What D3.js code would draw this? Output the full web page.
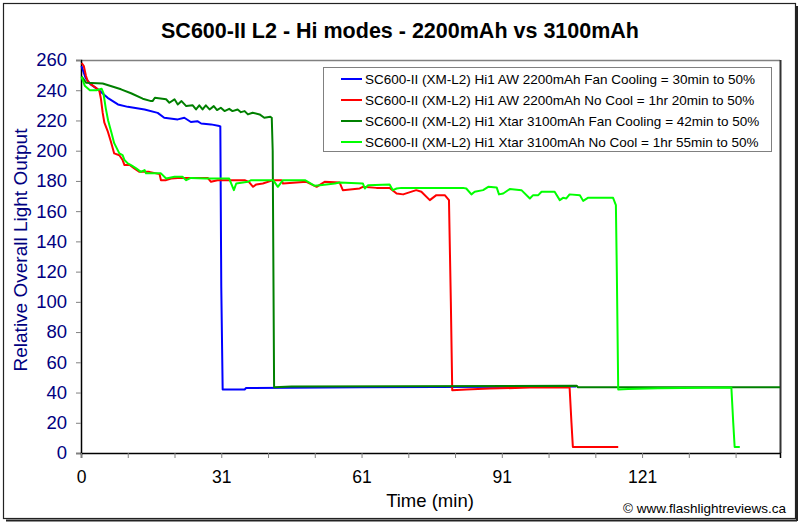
<!DOCTYPE html>
<html><head><meta charset="utf-8">
<script src="https://cdn.jsdelivr.net/npm/d3@7"></script>
<style>body{margin:0;background:#fff}svg{display:block}text{font-family:"Liberation Sans",Arial,sans-serif}</style>
</head><body>
<script>
const title = "SC600-II L2 - Hi modes - 2200mAh vs 3100mAh";
const yTitle = "Relative Overall Light Output";
const xTitle = "Time (min)";
const credit = "\u00a9 www.flashlightreviews.ca";
const yTicks = [0,20,40,60,80,100,120,140,160,180,200,220,240,260];
const xTickValues = [0,30,60,90,120];
const xTickLabels = ["0","31","61","91","121"];
const xMinorTicks = [0,10,20,30,40,50,60,70,80,90,100,110,120,130,140];
const seriesNames = [
  "SC600-II (XM-L2) Hi1 AW 2200mAh Fan Cooling = 30min to 50%",
  "SC600-II (XM-L2) Hi1 AW 2200mAh No Cool = 1hr 20min to 50%",
  "SC600-II (XM-L2) Hi1 Xtar 3100mAh Fan Cooling = 42min to 50%",
  "SC600-II (XM-L2) Hi1 Xtar 3100mAh No Cool = 1hr 55min to 50%"
];
const seriesColors = ["#0000ff","#ff0000","#008000","#00ff00"];

const blueData = [[0.1,256],[1.0,248],[2.0,244],[3.6,240.6],[5.7,235],[7.9,230.6],[10.0,229],[13.6,227.3],[16.4,225],[17.8,221.8],[20.7,220.7],[22.1,221.8],[23.5,219],[24.9,219.5],[25.7,218],[27.8,217.4],[29.6,216.3],[29.8,216],[30.0,110],[30.3,42],[35.0,42],[35.3,43],[60,43.5],[105.9,44]];
const redData = [[0.15,258],[0.6,256],[1.07,249.4],[1.43,246],[2.14,243.9],[3.2,241.6],[3.94,239.5],[4.28,234],[4.64,225],[5.0,218.5],[5.7,213],[6.4,205.9],[7.1,198.2],[8.2,197],[8.9,193.8],[9.3,190.5],[10.4,190.5],[11.4,188.3],[12.5,186],[14.6,186],[16.8,184.5],[17.1,180.5],[18.2,180.5],[19.3,181.6],[20.7,182],[27.1,182],[27.8,179.4],[29.2,180.5],[31.8,180.5],[35.0,180.5],[35.9,179.4],[36.8,176.1],[37.5,177.7],[38.9,178.3],[41.1,180.5],[42.9,180.5],[43.2,178.3],[48.2,179.4],[50.4,176.1],[52.1,179.4],[55.3,179],[56.0,173.9],[59.6,175],[60.3,176.1],[63.2,175.4],[66.0,175.4],[67.5,171.7],[68.9,171.1],[71.7,173.9],[72.8,172.8],[74.6,167.3],[76.0,170.6],[77.8,170.6],[78.7,167.3],[79.1,100],[79.4,41.5],[82.4,42],[87.4,42.6],[96.0,43.3],[104.5,43.3],[104.9,20],[105.2,4],[114.9,4]];
const darkGreenData = [[0.15,249],[1.07,245],[4.64,244.5],[6.35,242.8],[8.56,240.6],[10.7,238],[13.2,234.4],[15.0,232.8],[15.3,232.8],[15.8,235],[18.2,234],[18.9,231.7],[20.0,234],[20.7,230.6],[21.5,232.8],[22.5,229.5],[23.9,230],[24.6,227.3],[25.3,230],[26.0,227.3],[26.7,230],[27.5,227.3],[28.4,229.5],[29.1,226.9],[29.9,228.4],[30.7,226.2],[31.7,227.7],[32.4,226.2],[33.5,227.3],[34.2,225.5],[35.0,226.2],[35.7,224],[36.7,225.1],[38.2,224],[39.2,221.8],[40.5,222.4],[40.8,221.8],[41.0,200],[41.3,43.5],[45,44],[106,44.5],[106.3,43.5],[149.5,43.5]];
const lightGreenData = [[0.1,249],[0.8,243],[1.9,240],[3.3,240],[4.4,241],[4.8,238],[5.3,228],[5.8,220],[6.5,212],[7.1,205],[8.2,198.2],[8.9,197.1],[9.3,193.8],[10.0,191.6],[10.7,190.5],[11.8,188.3],[12.8,186],[13.6,187.2],[13.9,185],[17.1,185],[18.2,181.6],[20.0,182.7],[21.7,182.7],[22.5,180.5],[23.5,182],[26.7,181.6],[31.7,181.6],[32.7,173.9],[33.2,178.3],[35.7,179.4],[36.4,180.5],[41.1,180.5],[42.1,176.1],[43.2,180.5],[47.9,180.5],[50.0,176.8],[51.1,177.2],[52.5,177.7],[54.3,178.3],[55.3,179],[60.3,178.3],[60.7,175],[61.4,177.2],[66.0,177.7],[66.7,173.9],[67.5,175],[68.5,175.4],[81.7,175.4],[82.4,175],[83.5,171.1],[84.2,172.8],[86.0,173.9],[87.1,176.1],[88.9,175.7],[89.4,171.1],[90.3,171.7],[91.7,174.6],[94.2,173.9],[96.0,168.4],[96.7,170.6],[97.8,170.6],[98.5,172.8],[101.3,172.8],[102.4,167.3],[103.1,168.8],[103.8,168.4],[104.5,171.1],[106.7,170.6],[107.4,166.8],[108.4,168.8],[113.8,168.8],[114.4,164],[114.6,120],[114.9,42],[117.0,42.4],[123.4,42.8],[139.1,43.3],[139.5,20],[139.8,4],[140.9,4]];
const allSeries = [blueData, redData, darkGreenData, lightGreenData];

const W = 800, H = 524;
const m = {left:81, right:780, top:60, bottom:453};
const svg = d3.select("body").append("svg").attr("width",W).attr("height",H);
svg.append("rect").attr("width",W).attr("height",H).attr("fill","#fff");
// outer frame with shadow
svg.append("rect").attr("x",3.5).attr("y",3.5).attr("width",792).attr("height",515).attr("fill","none").attr("stroke","#222").attr("stroke-width",1.2);
svg.append("line").attr("x1",797).attr("x2",797).attr("y1",6).attr("y2",521).attr("stroke","#222").attr("stroke-width",2);
svg.append("line").attr("x1",6).attr("x2",797).attr("y1",520.5).attr("y2",520.5).attr("stroke","#222").attr("stroke-width",2);

const x = d3.scaleLinear().domain([0,149.5]).range([m.left,m.right]);
const y = d3.scaleLinear().domain([0,260]).range([m.bottom,m.top]);

// plot frame
svg.append("line").attr("x1",m.left).attr("x2",m.right).attr("y1",m.top+0.5).attr("y2",m.top+0.5).attr("stroke","#808080").attr("stroke-width",1.5);
svg.append("line").attr("x1",m.right+0.5).attr("x2",m.right+0.5).attr("y1",m.top).attr("y2",m.bottom).attr("stroke","#333").attr("stroke-width",2);

// axes
const yAxis = d3.axisLeft(y).tickValues(yTicks).tickSize(5).tickPadding(9);
const gy = svg.append("g").attr("transform",`translate(${m.left},0)`).call(yAxis);
gy.select(".domain").attr("stroke","#000").attr("stroke-width",1.5);
gy.selectAll(".tick line").attr("stroke","#808080");
gy.selectAll(".tick text").attr("fill","#000080").attr("font-size","18.5px");

const xAxis = d3.axisBottom(x).tickValues(xMinorTicks).tickSize(5).tickFormat(()=>"");
const gx = svg.append("g").attr("transform",`translate(0,${m.bottom})`).call(xAxis);
gx.select(".domain").attr("stroke","#000").attr("stroke-width",1.5);
gx.selectAll(".tick line").attr("stroke","#808080");
const xLab = d3.axisBottom(x).tickValues(xTickValues).tickSize(0).tickPadding(18).tickFormat((d,i)=>xTickLabels[i]);
const gxl = svg.append("g").attr("transform",`translate(0,${m.bottom})`).call(xLab);
gxl.select(".domain").remove();
gxl.selectAll(".tick text").attr("fill","#000").attr("font-size","17.5px");

// lines
const line = d3.line().x(d=>x(d[0])).y(d=>y(d[1]));
allSeries.forEach((s,i)=>{
  svg.append("path").datum(s).attr("d",line).attr("fill","none").attr("stroke",seriesColors[i]).attr("stroke-width",2).attr("stroke-linejoin","round");
});

// titles
svg.append("text").attr("x",400).attr("y",38).attr("text-anchor","middle").attr("font-size","21.5px").attr("font-weight","bold").text(title);
svg.append("text").attr("transform","translate(27,250) rotate(-90)").attr("text-anchor","middle").attr("fill","#000080").attr("font-size","19px").text(yTitle);
svg.append("text").attr("x",430).attr("y",507).attr("text-anchor","middle").attr("font-size","18.5px").text(xTitle);
svg.append("text").attr("x",786).attr("y",513).attr("text-anchor","end").attr("font-size","13.5px").text(credit);

// legend
const lg = svg.append("g");
lg.append("rect").attr("x",323.5).attr("y",67.5).attr("width",448).attr("height",84).attr("fill","#fff").attr("stroke","#808080").attr("stroke-width",1);
const rowY = [79,100,121,142];
seriesNames.forEach((n,i)=>{
  lg.append("line").attr("x1",341).attr("x2",362).attr("y1",rowY[i]).attr("y2",rowY[i]).attr("stroke",seriesColors[i]).attr("stroke-width",2);
  lg.append("text").attr("x",365).attr("y",rowY[i]+5).attr("font-size","13.5px").text(n);
});
</script>
</body></html>
